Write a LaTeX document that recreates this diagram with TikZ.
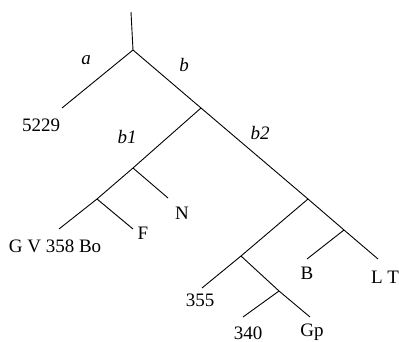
\documentclass[tikz,border=0pt]{standalone}
\usepackage{fontspec}
\setmainfont{Liberation Serif}
\begin{document}
\begin{tikzpicture}[x=1pt,y=-1pt, line width=0.9pt,
  lbl/.style={font=\fontsize{19}{22}\selectfont, inner sep=0pt},
  ilbl/.style={font=\fontsize{19}{22}\selectfont\itshape, inner sep=0pt}]
\useasboundingbox (0,0) rectangle (399,342);
% junctions and leaf ends
\coordinate (top) at (131,12);
\coordinate (A) at (133,50);
\coordinate (l5229) at (62,108);
\coordinate (B) at (201,108);
\coordinate (b1) at (133,168);
\coordinate (lN) at (168,198);
\coordinate (G) at (97,199);
\coordinate (lGV) at (59,229);
\coordinate (lF) at (133,229);
\coordinate (C) at (308,199);
\coordinate (H) at (344,230);
\coordinate (lLT) at (378,259);
\coordinate (lB) at (307,259);
\coordinate (D) at (241,256);
\coordinate (l355) at (202,288);
\coordinate (E) at (279,291);
\coordinate (lGp) at (310,317);
\coordinate (l340) at (243,317);
% branches
\draw (top) -- (A);
\draw (l5229) -- (A) -- (B) -- (C) -- (H) -- (lLT);
\draw (B) -- (b1) -- (G) -- (lGV);
\draw (b1) -- (lN);
\draw (G) -- (lF);
\draw (C) -- (D) -- (l355);
\draw (D) -- (E) -- (lGp);
\draw (E) -- (l340);
\draw (H) -- (lB);
% labels
\node[ilbl] (ta) at (86,60) {a};
\node[ilbl] (tb) at (184,65) {b};
\node[ilbl] (tb1) at (127,137) {b1};
\node[ilbl] (tb2) at (260,133) {b2};
\node[lbl] (t5229) at (41,125) {5229};
\node[lbl] (tN) at (182,213) {N};
\node[lbl] (tF) at (143,233) {F};
\node[lbl] (tGV) at (55,246) {G V 358 Bo};
\node[lbl] (t355) at (200,300) {355};
\node[lbl] (t340) at (248,333) {340};
\node[lbl] (tGp) at (312,332) {Gp};
\node[lbl] (tB) at (307,273) {B};
\node[lbl] (tLT) at (385,277) {L T};
\end{tikzpicture}
\end{document}
